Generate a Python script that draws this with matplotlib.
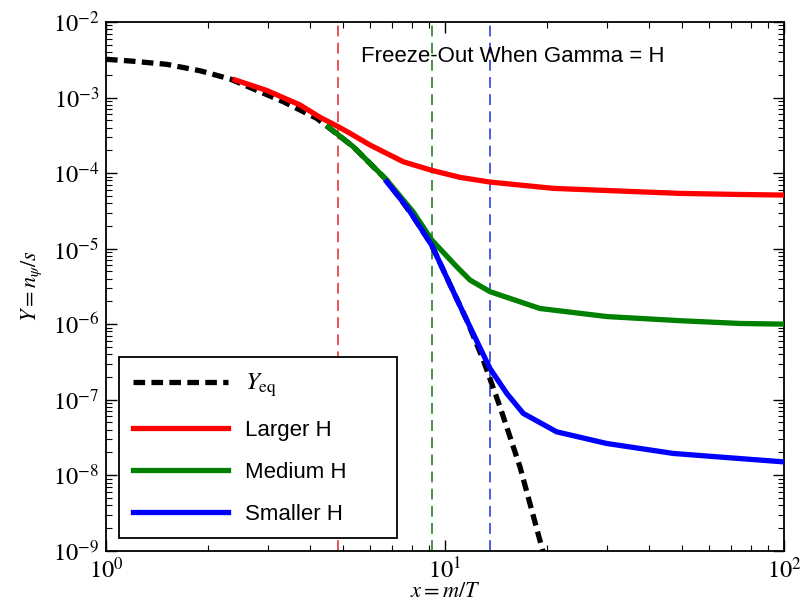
import matplotlib
matplotlib.use("Agg")
import matplotlib.pyplot as plt

# ---- data ----
yeq_x = [1.0, 1.204, 1.510, 1.894, 2.322, 3.334, 4.183, 4.477, 5.364, 6.730, 8.064, 9.137,
         10.20, 11.59, 12.97, 14.53, 16.64, 19.29, 20.40]
yeq_y = [3.21e-3, 3.02e-3, 2.75e-3, 2.26e-3, 1.76e-3, 8.80e-4, 5.30e-4, 4.19e-4, 2.23e-4, 8.08e-5,
         2.64e-5, 1.11e-5, 3.83e-6, 1.13e-6, 3.34e-7, 8.03e-8, 1.29e-8, 1.12e-9, 4.40e-10]

large_x = [2.402, 2.979, 3.736, 4.278, 4.845, 5.246, 6.009, 7.534, 9.137, 11.07, 13.57, 20.87,
           32.82, 49.33, 70.96, 100.0]
large_y = [1.71e-3, 1.24e-3, 7.96e-4, 5.47e-4, 4.10e-4, 3.36e-4, 2.35e-4, 1.41e-4, 1.086e-4,
           8.77e-5, 7.60e-5, 6.27e-5, 5.78e-5, 5.38e-5, 5.22e-5, 5.11e-5]

medium_x = [4.527, 5.364, 6.432, 6.730, 8.064, 9.137, 10.83, 11.85, 13.57, 19.06, 29.99, 49.33,
            74.17, 100.0]
medium_y = [4.07e-4, 2.23e-4, 9.91e-5, 8.08e-5, 3.04e-5, 1.30e-5, 5.74e-6, 3.83e-6, 2.69e-6,
            1.61e-6, 1.26e-6, 1.11e-6, 1.02e-6, 1.0e-6]

small_x = [6.730, 7.709, 8.064, 9.137, 10.20, 11.59, 13.57, 15.21, 17.02, 21.35, 29.99, 47.16,
           74.17, 100.0]
small_y = [7.67e-5, 3.58e-5, 2.64e-5, 1.11e-5, 3.83e-6, 1.13e-6, 2.59e-7, 1.21e-7, 6.57e-8,
           3.75e-8, 2.63e-8, 1.94e-8, 1.66e-8, 1.50e-8]

freeze_x = [4.85, 9.14, 13.6]
freeze_colors = ["#e8474a", "#3a8a3a", "#3b4fe0"]

labels = [r"$Y_{\rm eq}$", "Larger H", "Medium H", "Smaller H"]
title_text = "Freeze-Out When Gamma = H"

plt.rcParams["font.family"] = ["STIXGeneral", "DejaVu Serif"]
plt.rcParams["mathtext.fontset"] = "stix"

fig = plt.figure(figsize=(8.08, 6.07), dpi=100)
ax = fig.add_axes([0.1312, 0.0927, 0.8391, 0.8711])

l0, = ax.plot(yeq_x, yeq_y, color="black", lw=3.8, ls=(0, (2.2, 1.2)), zorder=2)
l1, = ax.plot(large_x, large_y, color="#ff0000", lw=3.8, zorder=3,
              solid_joinstyle="round")
l2, = ax.plot(medium_x, medium_y, color="#008000", lw=3.8, zorder=3,
              solid_joinstyle="round")
l3, = ax.plot(small_x, small_y, color="#0000ff", lw=3.8, zorder=3,
              solid_joinstyle="round")

for xv, c in zip(freeze_x, freeze_colors):
    ax.axvline(xv, color=c, lw=1.3, ls=(0, (6, 3.5)), zorder=1)

ax.set_xscale("log")
ax.set_yscale("log")
ax.set_xlim(1, 100)
ax.set_ylim(1e-9, 1e-2)

ax.tick_params(which="both", direction="in", top=True, right=True, labelsize=17.5)
ax.tick_params(which="major", length=8, width=1, pad=5)
ax.tick_params(which="minor", length=4, width=0.8)
for s in ax.spines.values():
    s.set_linewidth(1.3)

ax.set_xlabel(r"$x = m/T$", fontsize=16, labelpad=-1)
ax.set_ylabel(r"$Y = n_\psi/s$", fontsize=16, labelpad=6)

ax.text(0.376, 0.924, title_text, transform=ax.transAxes, fontsize=16,
        family="Liberation Sans", va="baseline", ha="left")

leg = ax.legend([l0, l1, l2, l3], labels, loc="lower left",
                bbox_to_anchor=(0.0196, 0.0235, 0.409, 0.336), mode="expand",
                borderaxespad=0, frameon=True, fancybox=False, framealpha=1,
                edgecolor="black", handlelength=4.3, handletextpad=0.75,
                labelspacing=0.95, borderpad=0.6,
                prop={"family": "Liberation Sans", "size": 16})
leg.get_frame().set_linewidth(1.3)
leg.get_texts()[0].set_fontsize(18)

fig.savefig("out.png", dpi=100)
